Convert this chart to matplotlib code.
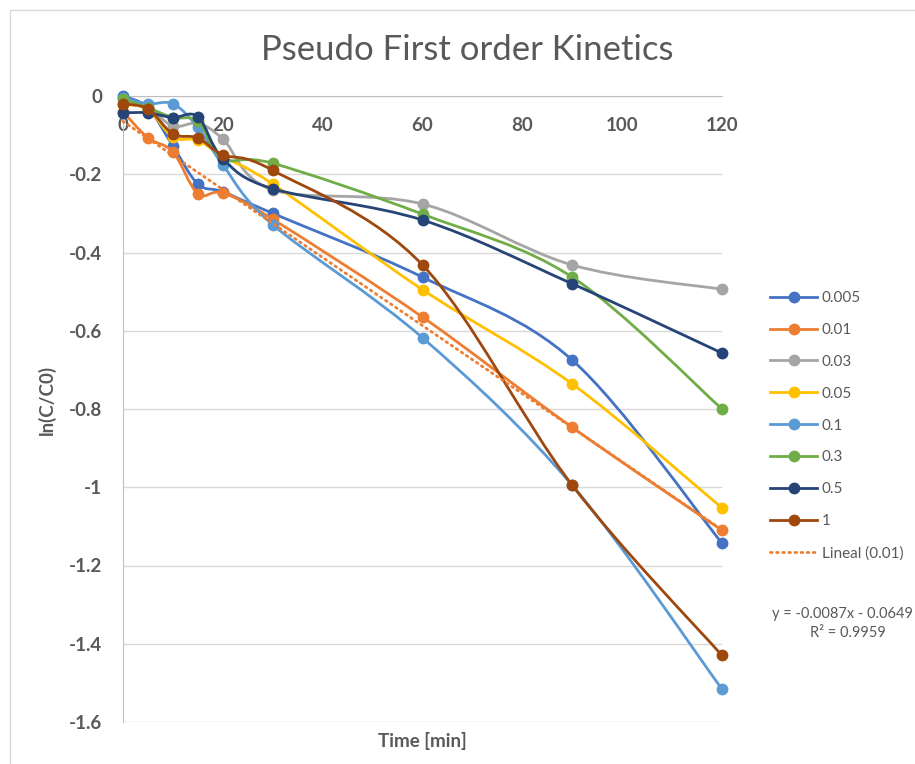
import numpy as np
import matplotlib
matplotlib.use('Agg')
import matplotlib.pyplot as plt
from matplotlib.path import Path
from matplotlib.patches import PathPatch, Rectangle
from matplotlib.lines import Line2D

# ---------------- data ----------------
time_min = [0, 5, 10, 15, 20, 30, 60, 90, 120]
series_labels = ['0.005', '0.01', '0.03', '0.05', '0.1', '0.3', '0.5', '1']
s_0005 = [0.0, -0.03, -0.128, -0.225, -0.245, -0.300, -0.463, -0.675, -1.143]
s_001 = [-0.04, -0.107, -0.143, -0.250, -0.248, -0.315, -0.565, -0.847, -1.110]
s_003 = [-0.02, -0.03, -0.077, -0.070, -0.110, -0.240, -0.276, -0.432, -0.494]
s_005 = [-0.02, -0.035, -0.105, -0.113, -0.155, -0.225, -0.495, -0.736, -1.053]
s_01 = [-0.005, -0.02, -0.020, -0.080, -0.176, -0.329, -0.618, -0.995, -1.516]
s_03 = [-0.008, -0.03, -0.055, -0.065, -0.160, -0.172, -0.302, -0.463, -0.800]
s_05 = [-0.043, -0.043, -0.055, -0.053, -0.160, -0.237, -0.317, -0.480, -0.657]
s_1 = [-0.020, -0.033, -0.097, -0.107, -0.150, -0.190, -0.432, -0.995, -1.430]
series_values = [s_0005, s_001, s_003, s_005, s_01, s_03, s_05, s_1]
series_colors = ['#4472C4', '#ED7D31', '#A5A5A5', '#FFC000',
                 '#5B9BD5', '#70AD47', '#264478', '#9E480E']
trend_slope = -0.0087
trend_intercept = -0.0649
trend_r2 = 0.9959
x_ticks = [0, 20, 40, 60, 80, 100, 120]
x_ticklabels = ['0', '20', '40', '60', '80', '100', '120']
y_ticks = [-1.6, -1.4, -1.2, -1.0, -0.8, -0.6, -0.4, -0.2, 0.0]
y_ticklabels = ['-1.6', '-1.4', '-1.2', '-1', '-0.8', '-0.6', '-0.4', '-0.2', '0']

FONT = ['Lato', 'DejaVu Sans']
plt.rcParams['font.family'] = FONT
TXT = '#595959'


def smooth_path(x, y):
    pts = np.column_stack([x, y]).astype(float)
    n = len(pts)
    verts = [pts[0]]
    codes = [Path.MOVETO]
    for i in range(n - 1):
        p0 = pts[i - 1] if i > 0 else pts[i]
        p1 = pts[i]
        p2 = pts[i + 1]
        p3 = pts[i + 2] if i + 2 < n else pts[i + 1]
        c1 = p1 + (p2 - p0) / 6.0
        c2 = p2 - (p3 - p1) / 6.0
        verts += [c1, c2, p2]
        codes += [Path.CURVE4] * 3
    return Path(verts, codes)


W, H = 915, 764
fig = plt.figure(figsize=(W / 100, H / 100), dpi=100)
fig.patch.set_facecolor('white')

# chart border
fig.patches.append(Rectangle((10 / W, -0.1), 1.2, 1 - 10 / H + 0.1,
                             transform=fig.transFigure, fill=False,
                             edgecolor='#D9D9D9', lw=1.0))

L, R, T, B = 123, 722, 96, 722
ax = fig.add_axes([L / W, 1 - B / H, (R - L) / W, (B - T) / H])
for s in ['top', 'right']:
    ax.spines[s].set_visible(False)
ax.spines['bottom'].set_position(('data', 0))
ax.spines['bottom'].set_color('#BFBFBF')
ax.spines['left'].set_color('#BFBFBF')
ax.spines['bottom'].set_zorder(1)

ax.set_xlim(0, 120)
ax.set_ylim(-1.6, 0)
ax.set_facecolor('none')

ax.set_xticks(x_ticks)
ax.set_xticklabels(x_ticklabels, fontweight='bold', fontsize=13.5, color=TXT)
ax.set_yticks(y_ticks)
ax.set_yticklabels(y_ticklabels, fontweight='bold', fontsize=13.5, color=TXT)
ax.grid(axis='y', color='#D9D9D9', lw=1.0, zorder=0)
ax.set_axisbelow(True)
ax.tick_params(axis='both', length=0)
ax.tick_params(axis='x', pad=15)
ax.tick_params(axis='y', pad=15)

handles = []
for k, (lab, vals, col) in enumerate(zip(series_labels, series_values, series_colors)):
    z = 3 + k
    patch = PathPatch(smooth_path(time_min, vals), fill=False, edgecolor=col,
                      lw=2.0, capstyle='round', joinstyle='round', zorder=z,
                      clip_on=False)
    ax.add_patch(patch)
    ax.plot(time_min, vals, linestyle='none', marker='o', markersize=7.5,
            color=col, zorder=z + 0.5, clip_on=False)
    handles.append(Line2D([], [], color=col, lw=2.0, marker='o', markersize=7.5))

tx = np.array([time_min[0], time_min[-1]], dtype=float)
ax.plot(tx, trend_slope * tx + trend_intercept, color='#ED7D31', lw=2.0,
        linestyle=(0, (0.6, 1.6)), dash_capstyle='round', zorder=20, clip_on=False)
handles.append(Line2D([], [], color='#ED7D31', lw=2.0, linestyle=(0, (0.6, 1.6)),
                      dash_capstyle='round'))
labels = series_labels + ['Lineal (0.01)']

leg = fig.legend(handles, labels, loc='upper left',
                 bbox_to_anchor=(770 / W, 1 - 291 / H), frameon=False,
                 fontsize=11, handlelength=3.1, handletextpad=0.3,
                 labelspacing=1.17, borderaxespad=0, borderpad=0)
for t in leg.get_texts():
    t.set_color(TXT)

fig.text(913 / W, 1 - 614 / H, 'y = %.4fx - %.4f' % (trend_slope, -trend_intercept),
         ha='right', va='center', fontsize=10.5, color=TXT)
fig.text(848 / W, 1 - 633 / H, 'R² = %.4f' % trend_r2,
         ha='center', va='center', fontsize=10.5, color=TXT)

fig.text(467 / W, 1 - 50 / H, 'Pseudo First order Kinetics', ha='center',
         va='center', fontsize=25, color=TXT, fontweight='normal')
fig.text(47 / W, 1 - 400 / H, 'ln(C/C0)', rotation=90, ha='center', va='center',
         fontsize=13.5, fontweight='bold', color=TXT)
fig.text(422 / W, 1 - 741 / H, 'Time [min]', ha='center', va='center',
         fontsize=13.5, fontweight='bold', color=TXT)

fig.savefig('out.png', dpi=100)
